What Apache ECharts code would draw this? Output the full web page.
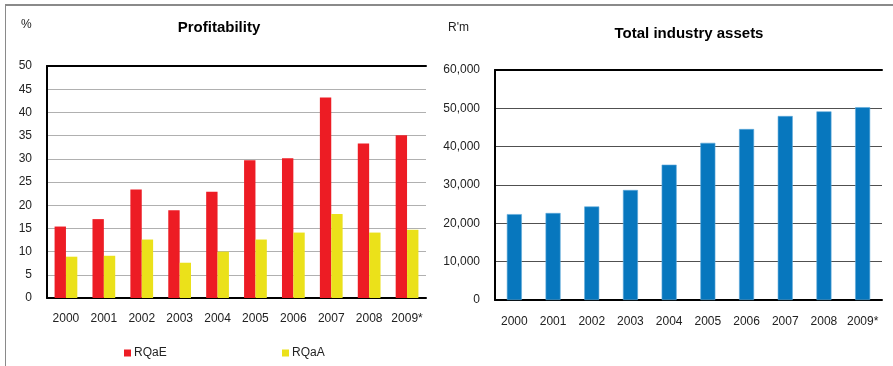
<!DOCTYPE html>
<html><head><meta charset="utf-8">
<script src="https://cdn.jsdelivr.net/npm/echarts@6/dist/echarts.min.js"></script>
<style>html,body{margin:0;padding:0;background:#fff}#c{width:893px;height:366px}</style>
</head><body><div id="c"></div>
<script>
const years = ['2000','2001','2002','2003','2004','2005','2006','2007','2008','2009*'];
const roae = [15.4, 17.0, 23.4, 18.9, 22.9, 29.7, 30.1, 43.2, 33.3, 35.1];
const roaa = [8.9, 9.1, 12.6, 7.6, 10.0, 12.6, 14.1, 18.1, 14.1, 14.7];
const assets = [22400, 22700, 24400, 28700, 35300, 41000, 44600, 48000, 49200, 50300];
const leftTicks = {min: 0, max: 50, interval: 5};
const rightTicks = {min: 0, max: 60000, interval: 10000};

const chart = echarts.init(document.getElementById('c'), null, {renderer: 'canvas'});
const font = 'Liberation Sans, Arial, sans-serif';
const lbl = {color: '#222', fontSize: 12, fontFamily: font};
chart.setOption({
  animation: false,
  backgroundColor: '#fff',
  title: [
    {text: 'Profitability', left: 214, top: 15, textAlign: 'center',
     textStyle: {fontFamily: font, fontSize: 15, fontWeight: 'bold', color: '#000'}},
    {text: 'Total industry assets', left: 684, top: 21, textAlign: 'center',
     textStyle: {fontFamily: font, fontSize: 15, fontWeight: 'bold', color: '#000'}}
  ],
  graphic: [
    {type: 'line', shape: {x1: 5, y1: 5, x2: 893, y2: 5}, style: {stroke: '#8a8a8a', lineWidth: 2}},
    {type: 'line', shape: {x1: 5.5, y1: 5, x2: 5.5, y2: 366}, style: {stroke: '#8a8a8a', lineWidth: 1}},
    {type: 'text', left: 21, top: 19, style: {text: '%', fontFamily: font, fontSize: 12, fill: '#222'}},
    {type: 'text', left: 448, top: 22, style: {text: "R'm", fontFamily: font, fontSize: 12, fill: '#222'}}
  ],
  legend: [
    {data: ['RQaE'], left: 119, top: 342, itemWidth: 7, itemHeight: 7, icon: 'rect',
     textStyle: {fontFamily: font, fontSize: 12, color: '#222', padding: [0, 0, 0, -2]}},
    {data: ['RQaA'], left: 277, top: 342, itemWidth: 7, itemHeight: 7, icon: 'rect',
     textStyle: {fontFamily: font, fontSize: 12, color: '#222', padding: [0, 0, 0, -2]}}
  ],
  grid: [
    {left: 47, right: 467, top: 66, bottom: 68},
    {left: 495, right: 11, top: 70, bottom: 66}
  ],
  xAxis: [
    {type: 'category', gridIndex: 0, data: years,
     axisLine: {lineStyle: {color: '#000', width: 2}}, axisTick: {show: false},
     axisLabel: Object.assign({margin: 15, interval: 0}, lbl)},
    {type: 'category', gridIndex: 0, position: 'top', data: years,
     axisLine: {lineStyle: {color: '#000', width: 2}}, axisTick: {show: false}, axisLabel: {show: false}},
    {type: 'category', gridIndex: 1, data: years,
     axisLine: {lineStyle: {color: '#000', width: 2}}, axisTick: {show: false},
     axisLabel: Object.assign({margin: 16, interval: 0}, lbl)},
    {type: 'category', gridIndex: 1, position: 'top', data: years,
     axisLine: {lineStyle: {color: '#000', width: 2}}, axisTick: {show: false}, axisLabel: {show: false}}
  ],
  yAxis: [
    Object.assign({type: 'value', gridIndex: 0,
     axisLine: {show: true, lineStyle: {color: '#000', width: 2}}, axisTick: {show: false},
     axisLabel: Object.assign({margin: 15}, lbl),
     splitLine: {lineStyle: {color: '#b0b0b0', width: 1}}}, leftTicks),
    Object.assign({type: 'value', gridIndex: 1,
     axisLine: {show: true, lineStyle: {color: '#000', width: 2}}, axisTick: {show: false},
     axisLabel: Object.assign({margin: 15, formatter: v => v.toLocaleString('en-US')}, lbl),
     splitLine: {lineStyle: {color: '#505050', width: 1}}}, rightTicks)
  ],
  series: [
    {name: 'RQaE', type: 'bar', xAxisIndex: 0, yAxisIndex: 0, data: roae,
     barGap: '0%', barCategoryGap: '40%', itemStyle: {color: '#ED1C24'}},
    {name: 'RQaA', type: 'bar', xAxisIndex: 0, yAxisIndex: 0, data: roaa,
     barGap: '0%', barCategoryGap: '40%', itemStyle: {color: '#EBE11A'}},
    {name: 'Assets', type: 'bar', xAxisIndex: 2, yAxisIndex: 1, data: assets,
     barWidth: 15, itemStyle: {color: '#0777BE', borderColor: '#5FA9DA', borderWidth: 0.6}}
  ]
});
</script></body></html>
